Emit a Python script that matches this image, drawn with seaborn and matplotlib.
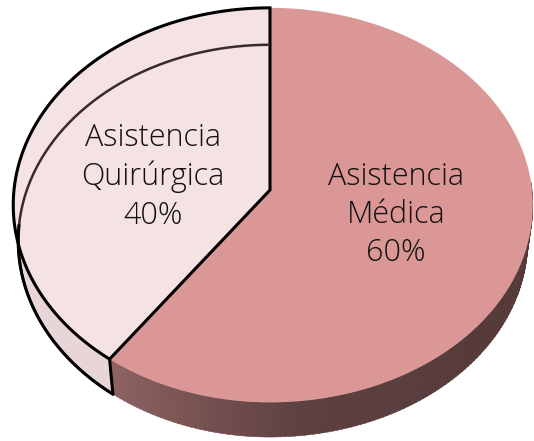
import numpy as np
import seaborn as sns
import matplotlib
matplotlib.use('Agg')
import matplotlib.pyplot as plt
from matplotlib.patches import Polygon

# data
labels = ['Asistencia\nQuirúrgica', 'Asistencia\nMédica']
values = [40, 60]
top_colors = ['#F5E2E3', '#DB9796']

sns.set_theme(style='white')
plt.rcParams['font.family'] = ['Open Sans', 'DejaVu Sans']

# perspective settings for the tilted disc (pixel space)
cx, cy = 270, 190
sx_left, sx_right, sy = 256, 262, 258
S, C, D = 0.76, 0.65, 8.5
h = 0.22


def project(theta, z=0.0):
    t = np.radians(theta)
    x, y = np.cos(t), np.sin(t)
    w = D + y * C - z * S
    u = x * D / w
    v = (y * S + z * C) * D / w
    return cx + np.where(u < 0, u * sx_left, u * sx_right), cy - v * sy


def rim(t1, t2, z=0.0, n=200):
    th = np.linspace(t1, t2, n)
    xs, ys = project(th, z)
    return np.column_stack([xs, ys])


fig = plt.figure(figsize=(5.34, 4.41), dpi=100)
ax = fig.add_axes([0, 0, 1, 1])
ax.set_xlim(0, 534)
ax.set_ylim(441, 0)
ax.axis('off')

# slice angles: first slice starts at 12 o'clock going counter-clockwise
total = sum(values)
starts = [90.0]
for v in values[:-1]:
    starts.append(starts[-1] + 360.0 * v / total)
ends = [s + 360.0 * v / total for s, v in zip(starts, values)]

q0, q1 = starts[0], ends[0]    # quirurgica
m0, m1 = starts[1], ends[1]    # medica

# side wall of the big slice, shaded with a gradient
side_end = 362
steps = int(side_end - m0)
shades = sns.blend_palette(['#8E6362', '#5E4040', '#573B3B', '#543838'], n_colors=steps)
for i in range(steps):
    a, b = m0 + i, m0 + i + 1.2
    top = rim(a, b, 0, 4)
    bot = rim(b, a, -h, 4)
    ax.add_patch(Polygon(np.vstack([top, bot]), closed=True,
                         facecolor=shades[i], edgecolor=shades[i], lw=0.4))

# top of the big slice
pts = np.vstack([[cx, cy], rim(m0, m1, 0)])
ax.add_patch(Polygon(pts, closed=True, facecolor=top_colors[1], edgecolor='none'))

# side wall of the small slice
top = rim(175, q1, 0)
bot = rim(q1, 175, -h)
ax.add_patch(Polygon(np.vstack([top, bot]), closed=True,
                     facecolor='#E8D5D7', edgecolor='none'))

# top of the small slice
pts = np.vstack([[cx, cy], rim(q0, q1, 0)])
ax.add_patch(Polygon(pts, closed=True, facecolor=top_colors[0],
                     edgecolor='black', lw=2.2, joinstyle='miter'))

# bottom rim seen through the light slice
br = rim(q0, q1, -h)
ax.plot(br[:, 0], br[:, 1], color='#3A2A2A', lw=1.8, solid_capstyle='butt')
k = int(len(br) * 0.62)
ax.plot(br[k:, 0], br[k:, 1], color='black', lw=2.2)

# vertical edge at the cut
ex0, ey0 = project(q1, 0)
ex1, ey1 = project(q1, -h)
ax.plot([ex0, ex1], [ey0, ey1], color='black', lw=2.2)

# labels
ax.text(153, 177, labels[0] + f'\n{values[0]}%', ha='center', va='center',
        fontsize=22, fontweight='light', color='#111111', linespacing=1.26)
ax.text(396, 215, labels[1] + f'\n{values[1]}%', ha='center', va='center',
        fontsize=22, fontweight='light', color='#111111', linespacing=1.26)

fig.savefig('out.png', dpi=100, facecolor='white')
